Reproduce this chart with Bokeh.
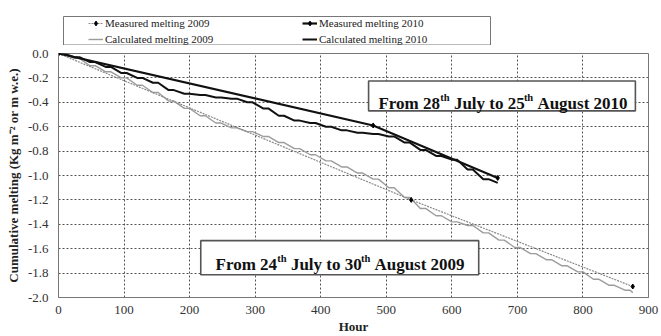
from bokeh.plotting import figure
from bokeh.layouts import column
from bokeh.models import Range1d, Legend, LegendItem, FixedTicker, PrintfTickFormatter, ColumnDataSource
from bokeh.core.properties import value
from bokeh.embed import file_html
from bokeh.resources import INLINE

# ---------------- data ----------------
x_ticks = [0, 100, 200, 300, 400, 500, 600, 700, 800, 900]
y_ticks = [0.0, -0.2, -0.4, -0.6, -0.8, -1.0, -1.2, -1.4, -1.6, -1.8, -2.0]

meas2009_hours = [0, 538, 876]
meas2009_vals = [0.0, -1.20, -1.91]

meas2010_hours = [0, 480, 670]
meas2010_vals = [0.0, -0.59, -1.02]

calc2009_hours = [0, 8, 24, 32, 48, 56, 72, 80, 96, 104, 120, 128, 144, 152, 168, 176,
                  192, 200, 216, 224, 240, 248, 264, 272, 288, 296, 312, 320, 336, 344,
                  360, 368, 384, 392, 408, 416, 432, 440, 456, 464, 480, 488, 504, 512,
                  528, 536, 552, 560, 576, 584, 600, 608, 624, 632, 648, 656, 672, 680,
                  696, 704, 720, 728, 744, 752, 768, 776, 792, 800, 816, 824, 840, 848,
                  864, 872, 876]
calc2009_vals = [0.0, 0.0, -0.04, -0.04, -0.10, -0.10, -0.15, -0.15, -0.20, -0.20,
                 -0.26, -0.26, -0.32, -0.32, -0.39, -0.39, -0.45, -0.45, -0.51, -0.51,
                 -0.57, -0.57, -0.61, -0.61, -0.64, -0.64, -0.68, -0.68, -0.73, -0.73,
                 -0.78, -0.78, -0.83, -0.83, -0.88, -0.88, -0.93, -0.93, -0.98, -0.98,
                 -1.03, -1.03, -1.10, -1.10, -1.18, -1.18, -1.27, -1.27, -1.33, -1.33,
                 -1.38, -1.38, -1.41, -1.41, -1.47, -1.47, -1.53, -1.53, -1.59, -1.59,
                 -1.64, -1.64, -1.69, -1.69, -1.74, -1.74, -1.79, -1.79, -1.85, -1.85,
                 -1.90, -1.90, -1.94, -1.94, -1.96]

calc2010_hours = [0, 8, 24, 32, 48, 56, 72, 80, 96, 104, 120, 128, 144, 152, 168, 176,
                  192, 200, 216, 224, 240, 248, 264, 272, 288, 296, 312, 320, 336, 344,
                  360, 368, 384, 392, 408, 416, 432, 440, 456, 464, 480, 488, 504, 512,
                  528, 536, 552, 560, 576, 584, 600, 608, 624, 632, 648, 656, 670]
calc2010_vals = [0.0, 0.0, -0.03, -0.03, -0.07, -0.07, -0.11, -0.11, -0.16, -0.16,
                 -0.20, -0.20, -0.24, -0.24, -0.30, -0.30, -0.33, -0.33, -0.34, -0.34,
                 -0.36, -0.36, -0.37, -0.37, -0.40, -0.40, -0.45, -0.45, -0.51, -0.51,
                 -0.55, -0.55, -0.57, -0.57, -0.60, -0.60, -0.63, -0.63, -0.65, -0.65,
                 -0.66, -0.66, -0.68, -0.68, -0.73, -0.73, -0.79, -0.79, -0.84, -0.84,
                 -0.87, -0.87, -0.95, -0.95, -1.03, -1.03, -1.06]

legend_labels = ["Measured melting 2009", "Measured melting 2010",
                 "Calculated melting 2009", "Calculated melting 2010"]
box2010_text = ["From 28", "th", "July to 25", "th", "August 2010"]
box2009_text = ["From 24", "th", "July to 30", "th", "August 2009"]

SERIF = "Liberation Serif"

# ---------------- styles ----------------
C09 = dict(line_color="#9c9c9c", line_width=1.4)
M09 = dict(line_color="#8a8a8a", line_width=1.2, line_dash="2 1")
C10 = dict(line_color="#111111", line_width=2)
M10 = dict(line_color="#111111", line_width=2.2)
MK = dict(marker="diamond", size=5, fill_color="black", line_color="black")

# ---------------- main figure ----------------
p = figure(width=661, height=291, output_backend="svg", toolbar_location=None,
           x_range=Range1d(0, 900), y_range=Range1d(-2.0, 0.0),
           min_border_left=58, min_border_right=13, min_border_top=8, min_border_bottom=38)
p.background_fill_color = "white"
p.border_fill_color = "white"
p.outline_line_color = "#777777"

for ax in (p.xaxis[0], p.yaxis[0]):
    ax.axis_line_color = "#777777"
    ax.major_tick_line_color = None
    ax.minor_tick_line_color = None
    ax.major_tick_out = 0
    ax.major_tick_in = 0
    ax.minor_tick_out = 0
    ax.minor_tick_in = 0
    ax.major_label_text_font = SERIF
    ax.major_label_text_font_size = "13px"
    ax.major_label_text_color = "#333333"
    ax.axis_label_text_font = SERIF
    ax.axis_label_text_font_style = "bold"
    ax.axis_label_text_font_size = "13px"
    ax.axis_label_text_color = "#222222"

p.xaxis.ticker = FixedTicker(ticks=x_ticks)
p.yaxis.ticker = FixedTicker(ticks=y_ticks)
p.yaxis.formatter = PrintfTickFormatter(format="%.1f")
p.xaxis.axis_label = "Hour"
p.yaxis.axis_label = "Cumulative melting (Kg m\u207b\u00b2 or m w.e.)"
p.xaxis.major_label_standoff = 8
p.xaxis.axis_label_standoff = 2
p.yaxis.major_label_standoff = 10
p.yaxis.axis_label_standoff = 4

for g in (p.xgrid[0], p.ygrid[0]):
    g.grid_line_color = "#555555"
    g.grid_line_dash = "2 2"
    g.grid_line_width = 1

p.line(calc2009_hours, calc2009_vals, **C09)
p.line(meas2009_hours, meas2009_vals, **M09)
p.scatter(meas2009_hours, meas2009_vals, **MK)
p.line(calc2010_hours, calc2010_vals, **C10)
p.line(meas2010_hours, meas2010_vals, **M10)
p.scatter(meas2010_hours, meas2010_vals, **MK)

# annotation boxes
p.quad(left=[473], right=[880], top=[-0.225], bottom=[-0.470],
       fill_color="white", line_color="#555555", line_width=1.6)
p.quad(left=[217], right=[641], top=[-1.534], bottom=[-1.813],
       fill_color="white", line_color="#555555", line_width=1.6)

offs = [0, 61.8, 75.4, 145.4, 158.9]
yoffs = [0, -6, 0, -6, 0]
big_idx = [0, 2, 4]
sup_idx = [1, 3]
for texts, ax_, ay_ in ((box2010_text, 488.1, -0.413), (box2009_text, 239.5, -1.728)):
    for idx, fs in ((big_idx, "17px"), (sup_idx, "10.5px")):
        src = ColumnDataSource(dict(x=[ax_] * len(idx), y=[ay_] * len(idx),
                                    t=[texts[i] for i in idx],
                                    xo=[offs[i] for i in idx],
                                    yo=[yoffs[i] for i in idx]))
        p.text(x="x", y="y", text="t", x_offset="xo", y_offset="yo", source=src,
               text_font=value(SERIF), text_font_style="bold", text_font_size=fs,
               text_color="#111111", text_baseline="alphabetic", text_align="left")

# ---------------- legend strip (data kept below its visible window) ----------------
lg = figure(width=661, height=45, output_backend="svg", toolbar_location=None,
            x_range=Range1d(58, 648), y_range=Range1d(10, 55),
            min_border_left=58, min_border_right=13,
            min_border_top=0, min_border_bottom=0)
lg.axis.visible = False
lg.grid.visible = False
lg.outline_line_color = None
lg.background_fill_color = "white"
lg.border_fill_color = "white"
lg.quad(left=[63], right=[490], top=[39], bottom=[10.5],
        fill_color="white", line_color="#777777", line_width=1)

r_m09 = [lg.line(meas2009_hours, meas2009_vals, **M09),
         lg.scatter(meas2009_hours, meas2009_vals, **MK)]
r_m10 = [lg.line(meas2010_hours, meas2010_vals, **M10),
         lg.scatter(meas2010_hours, meas2010_vals, **MK)]
r_c09 = [lg.line(calc2009_hours, calc2009_vals, **C09)]
r_c10 = [lg.line(calc2010_hours, calc2010_vals, **C10)]
items = [LegendItem(label=legend_labels[0], renderers=r_m09),
         LegendItem(label=legend_labels[1], renderers=r_m10),
         LegendItem(label=legend_labels[2], renderers=r_c09),
         LegendItem(label=legend_labels[3], renderers=r_c10)]
legend = Legend(items=items, orientation="horizontal", ncols=2,
                location=(30, 0), margin=0, padding=0, spacing=4,
                glyph_width=15, glyph_height=12, label_height=12,
                label_width=193, label_standoff=2,
                label_text_font=SERIF, label_text_font_size="11px",
                label_text_color="#222222",
                border_line_color=None, background_fill_alpha=0)
lg.add_layout(legend, "center")

layout = column(lg, p, spacing=0)
open("out.html", "w").write(file_html(layout, INLINE))
